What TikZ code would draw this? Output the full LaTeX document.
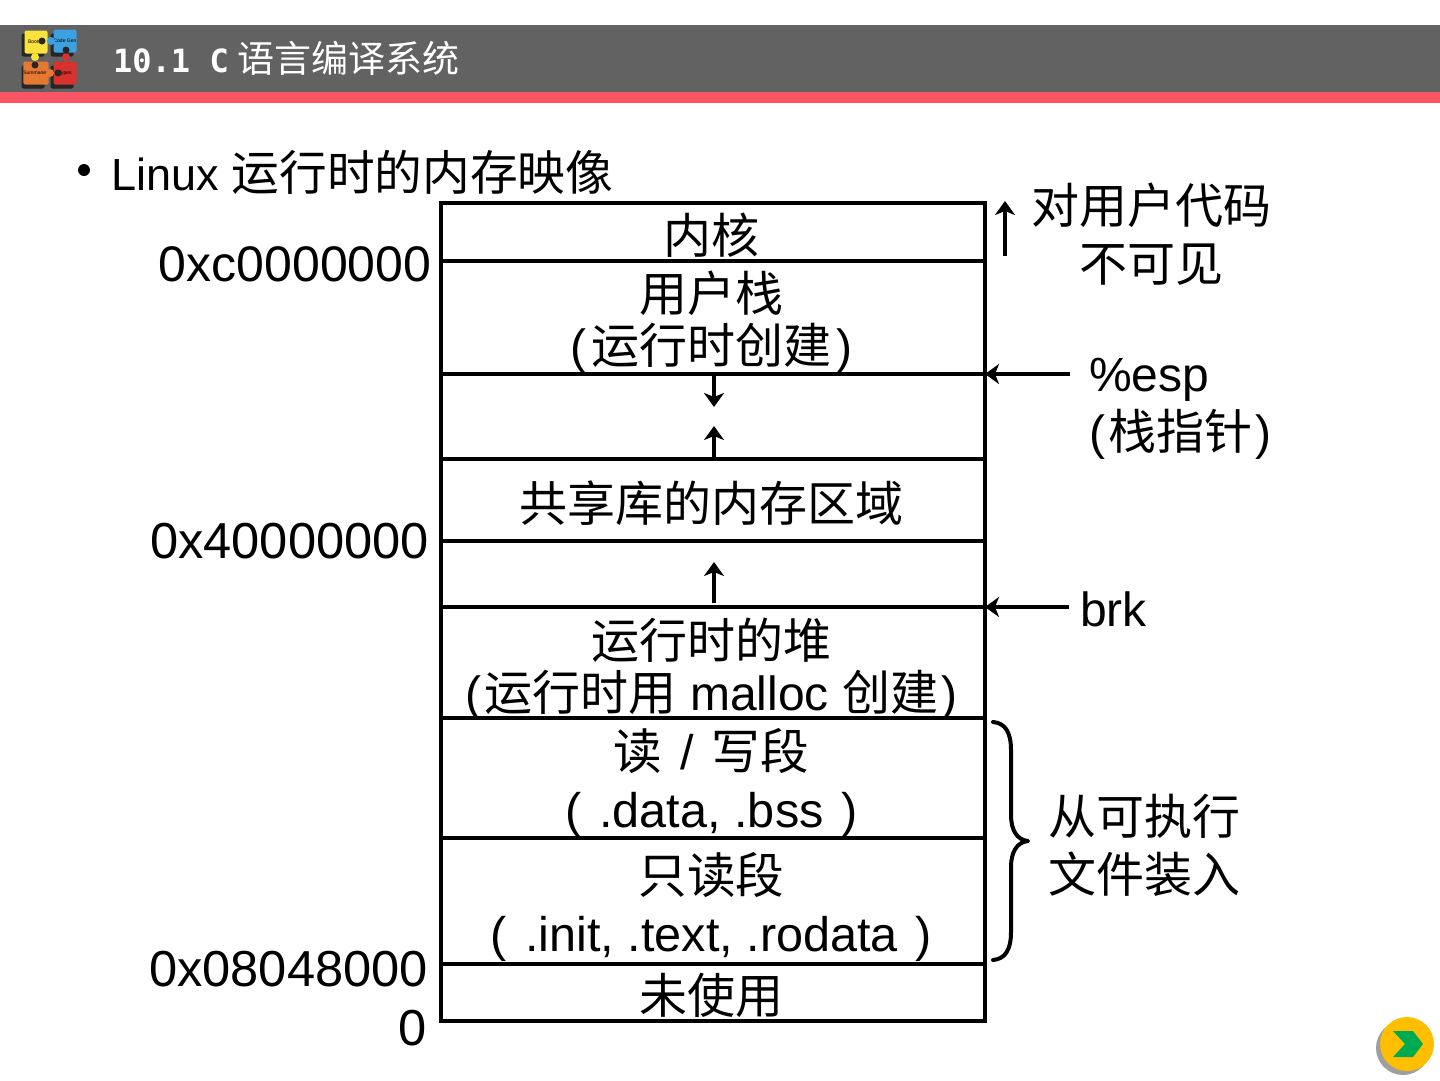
\documentclass[tikz,border=0pt]{standalone}
\usepackage{fontspec}
\setmainfont{Liberation Sans}
\newfontfamily\cjk{Noto Sans CJK SC}
\newfontfamily\titlemono{DejaVu Sans Mono}
\newcommand{\zh}[1]{{\cjk #1}}
\usetikzlibrary{arrows.meta}
\definecolor{barGray}{RGB}{98,98,98}
\definecolor{barRed}{RGB}{250,85,100}
\definecolor{pieceYellow}{RGB}{250,225,60}
\definecolor{pieceBlue}{RGB}{60,160,225}
\definecolor{pieceOrange}{RGB}{230,120,50}
\definecolor{pieceRed}{RGB}{215,50,45}
\definecolor{btnGold}{RGB}{255,190,0}
\definecolor{btnGreen}{RGB}{0,170,80}
\tikzset{
    memblock/.style={draw,line width=4pt,minimum width=544pt,inner sep=0pt,outer sep=0pt},
    memtext/.style={inner sep=0pt,align=center,font=\fontsize{48}{52}\selectfont},
    segtext/.style={memtext,font=\fontsize{48.6}{58}\selectfont},
    addrlabel/.style={anchor=east,inner sep=0pt,font=\fontsize{50.6}{56}\selectfont},
    sidelabel/.style={inner sep=0pt,align=center,font=\fontsize{48}{58}\selectfont},
    memarrow/.style={line width=3.5pt,-{Stealth[length=14pt,width=20pt,inset=4pt]}},
    piece/.style={rounded corners=2pt,inner sep=0pt,minimum width=23pt,minimum height=23pt,text=black,font=\fontsize{5}{5}\selectfont},
}
\begin{document}
\begin{tikzpicture}[x=1pt,y=-1pt]
    \useasboundingbox (0,0) rectangle (1440,1080);

    % title bar
    \fill[barGray] (0,25) rectangle (1440,92);
    \fill[barRed] (0,92) rectangle (1440,103);
    \node[anchor=west,inner sep=0pt,text=white,font=\fontsize{32}{36}\selectfont] (title) at (113,58)
        {{\titlemono\bfseries 10.1 C} \zh{\fontsize{37}{40}\selectfont 语言编译系统}};

    % logo
    \foreach \x/\y in {35/43,64/43,35/75,64/75} {
        \fill[black!85,rounded corners=2pt] (\x-11.5-2,\y-11.5+2) rectangle (\x+11.5-2,\y+11.5+2);
    }
    \node[piece,fill=pieceYellow] (pieceA) at (36,42) {Bootstr};
    \node[piece,fill=pieceBlue] (pieceB) at (65,41) {Code Gen};
    \node[piece,fill=pieceOrange] (pieceC) at (36,73) {Summaries};
    \node[piece,fill=pieceRed] (pieceD) at (65,73) {Types};
    \fill[pieceYellow] (35,57) circle (4pt);
    \fill[pieceBlue] (51,41) circle (4pt);
    \fill[pieceOrange] (50,73) circle (4pt);
    \fill[pieceRed] (66,57) circle (4pt);
    \fill[black!85] (42,41) circle (3.5pt);
    \fill[black!85] (66,50) circle (3.5pt);
    \fill[black!85] (35,65) circle (3.5pt);
    \fill[black!85] (58,73) circle (3.5pt);

    % bullet line
    \fill (84,170) circle (6pt);
    \node[anchor=west,inner sep=0pt,font=\fontsize{45}{50}\selectfont] (headline) at (111.5,172)
        {Linux \zh{\fontsize{47.7}{50}\selectfont 运行时的内存映像}};

    % memory blocks, top to bottom
    \node[memblock,minimum height=58pt] (kernel) at (713,232) {};
    \node[memblock,minimum height=113pt] (ustack) at (713,317.5) {};
    \node[memblock,minimum height=85pt] (gapa) at (713,416.5) {};
    \node[memblock,minimum height=82pt] (shared) at (713,500) {};
    \node[memblock,minimum height=66pt] (gapb) at (713,574) {};
    \node[memblock,minimum height=111pt] (heap) at (713,662.5) {};
    \node[memblock,minimum height=120pt] (rwseg) at (713,778) {};
    \node[memblock,minimum height=126pt] (roseg) at (713,901) {};
    \node[memblock,minimum height=57pt] (unused) at (713,992.5) {};

    % block texts
    \node[memtext] (kerneltext) at (711.5,235) {\zh{内核}};
    \node[memtext] (ustacktext) at (711.5,322.5) {\zh{用户栈}\\(\hspace{5pt}\zh{运行时创建}\hspace{5pt})};
    \node[memtext] (sharedtext) at (711.5,503) {\zh{共享库的内存区域}};
    \node[memtext] (heaptext) at (711.5,669) {\zh{运行时的堆}\\(\hspace{3pt}\zh{运行时用} malloc \zh{创建}\hspace{3pt})};
    \node[segtext] (rwsegtext) at (711.5,783) {\zh{读}\hspace{18pt}/\hspace{18pt}\zh{写段}\\(\hspace{18pt}.data, .bss\hspace{18pt})};
    \node[segtext] (rosegtext) at (711.5,906.5) {\zh{只读段}\\(\hspace{18pt}.init, .text, .rodata\hspace{18pt})};
    \node[memtext] (unusedtext) at (711.5,995.5) {\zh{未使用}};

    % addresses
    \node[addrlabel,font=\fontsize{50}{56}\selectfont] (addrkernel) at (431.5,264) {0xc0000000};
    \node[addrlabel] (addrshared) at (429,541) {0x40000000};
    \node[addrlabel] (addrtext) at (428,969) {0x08048000};
    \node[addrlabel] (addrzero) at (427,1028) {0};

    % arrows inside the blocks
    \coordinate (stackdown) at (714,407);
    \coordinate (libup) at (714,426);
    \coordinate (heapup) at (714,562);
    \draw[memarrow] (714,374) -- (stackdown);
    \draw[memarrow] (714,459) -- (libup);
    \draw[memarrow] (714,603) -- (heapup);

    % right side labels
    \node[sidelabel] (hidden) at (1151,234) {\zh{对用户代码}\\\zh{不可见}};
    \coordinate (hiddentail) at (1005,256);
    \coordinate (hiddenhead) at (1005,201);
    \draw[memarrow] (hiddentail) -- (hiddenhead);

    \node[sidelabel,align=left,anchor=west] (esp) at (1089,408.5) {\%esp\\(\hspace{3pt}\zh{栈指针}\hspace{3pt})};
    \coordinate (esptail) at (1070,374);
    \coordinate (esphead) at (985,374);
    \draw[memarrow] (esptail) -- (esphead);

    \node[sidelabel,anchor=west] (brk) at (1080,609) {brk};
    \coordinate (brktail) at (1069,607);
    \coordinate (brkhead) at (985,607);
    \draw[memarrow] (brktail) -- (brkhead);

    % brace
    \draw[line width=4pt,line join=round,line cap=round] (993,722) .. controls (1005,723) and (1011,732) .. (1011,750) -- (1011,815)
        .. controls (1011,830) and (1017,840) .. (1028,841)
        .. controls (1017,842) and (1011,852) .. (1011,867) -- (1011,932)
        .. controls (1011,950) and (1005,959) .. (993,960);
    \node[sidelabel] (loaded) at (1144,845) {\zh{从可执行}\\\zh{文件装入}};

    % next button
    \fill[gray!75] (1403,1048) circle (27pt);
    \fill[btnGold] (1407,1044) circle (27pt);
    \fill[btnGreen] (1393,1031) -- (1413,1031) -- (1423,1044) -- (1413,1057) -- (1393,1057) -- (1405,1044) -- cycle;
\end{tikzpicture}
\end{document}
